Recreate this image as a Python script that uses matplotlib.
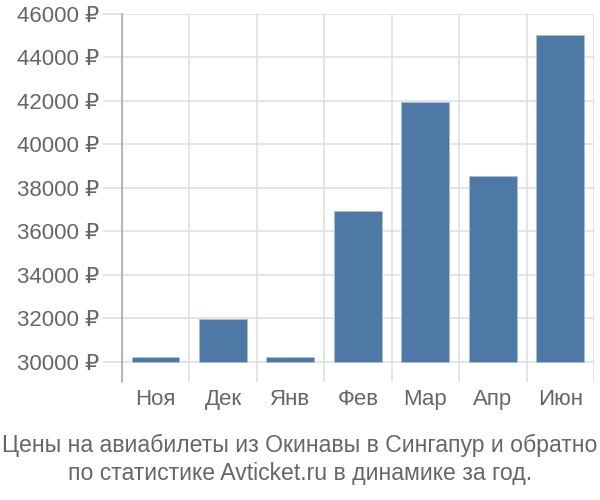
import numpy as np
import matplotlib
matplotlib.use("Agg")
import matplotlib.pyplot as plt
from matplotlib.ticker import FixedLocator

plt.rcParams["font.family"] = ["Liberation Sans", "DejaVu Sans"]

months = ["Ноя", "Дек", "Янв", "Фев", "Мар", "Апр", "Июн"]
prices = [30230, 31960, 30230, 36940, 41940, 38540, 45050]
yticks = [30000, 32000, 34000, 36000, 38000, 40000, 42000, 44000, 46000]
title = "Цены на авиабилеты из Окинавы в Сингапур и обратно\nпо статистике Avticket.ru в динамике за год."

base = 30000
text_color = "#666666"
grid_color = "#e0e0e0"

fig = plt.figure(figsize=(6, 5), dpi=100)
ax = fig.add_axes([0.203, 0.236, 0.787, 0.736])

x = np.arange(len(months))
heights = [p - base for p in prices]
ax.bar(x, heights, bottom=base, width=0.71, color="#4e79a7",
       edgecolor="#a9bfd6", linewidth=0.6, zorder=3)

ax.set_xlim(-0.5, len(months) - 0.5)
ax.set_ylim(29080, 46000)

ax.set_yticks(yticks)
ax.set_yticklabels([f"{t} ₽" for t in yticks])
ax.set_xticks(x)
ax.set_xticklabels(months)
ax.xaxis.set_minor_locator(FixedLocator(np.arange(-0.5, len(months), 1.0)))

ax.grid(axis="y", which="major", color=grid_color, linewidth=1.2, zorder=0)
ax.grid(axis="x", which="minor", color=grid_color, linewidth=1.2, zorder=0)

ax.tick_params(axis="y", length=14, width=1.2, color=grid_color, pad=2,
               labelsize=16, labelcolor=text_color)
ax.tick_params(axis="x", which="major", length=0, pad=5,
               labelsize=16, labelcolor=text_color)
ax.tick_params(axis="x", which="minor", length=0)

for side in ["top", "right", "bottom"]:
    ax.spines[side].set_visible(False)
ax.spines["left"].set_color("#aaaaaa")
ax.spines["left"].set_linewidth(1.2)

fig.text(0.5, 0.081, title, ha="center", va="center", fontsize=16.6,
         color="#666666", linespacing=1.3)

fig.savefig("out.png", dpi=100)
